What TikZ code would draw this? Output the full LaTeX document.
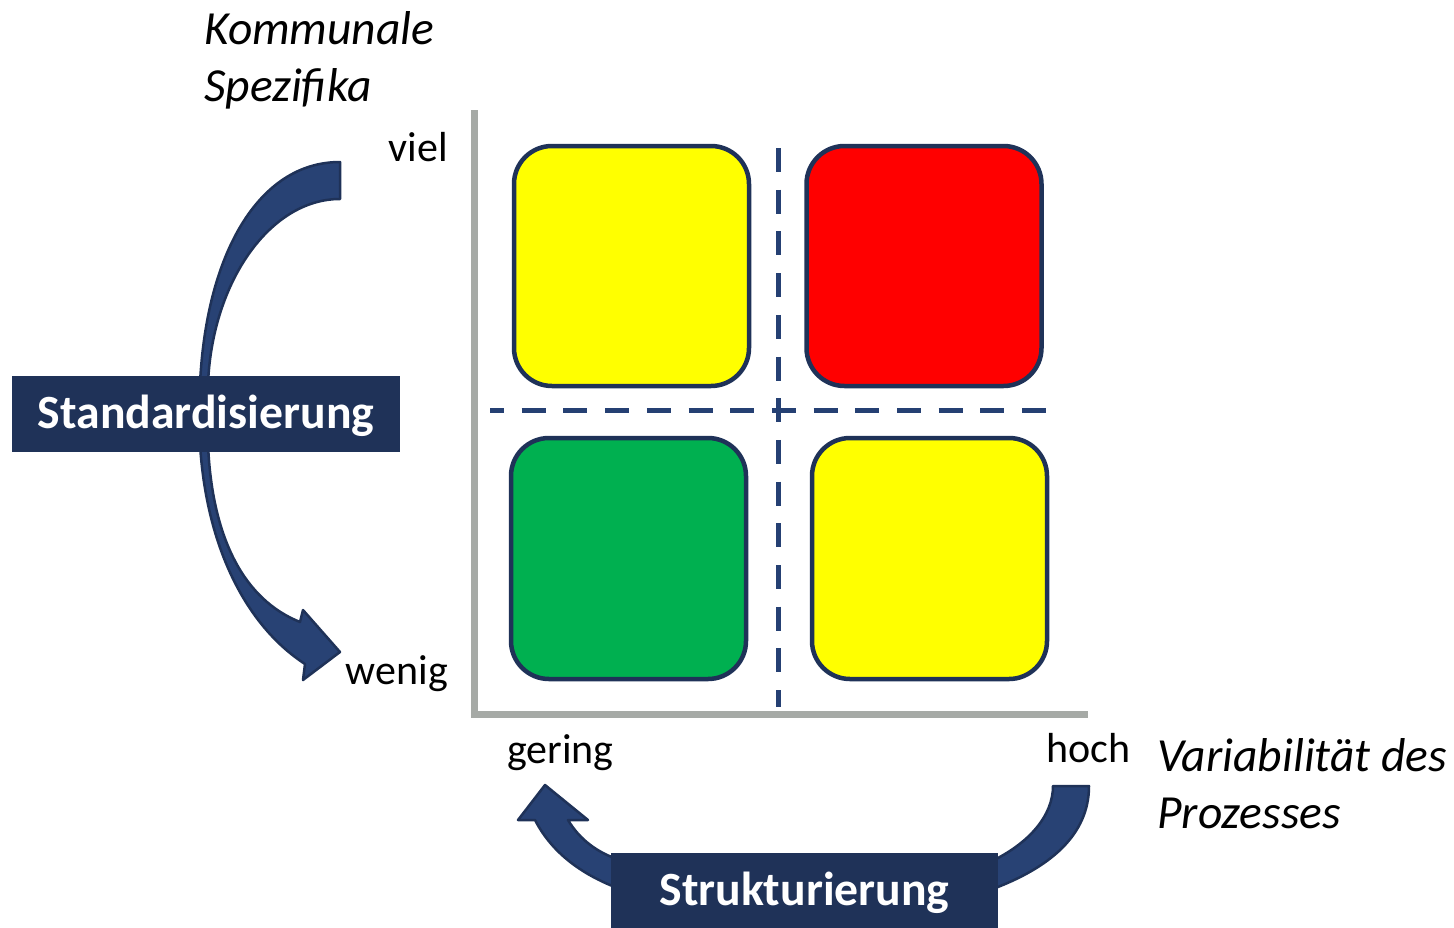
\documentclass[tikz,border=0pt]{standalone}
\usepackage{fontspec}
\setmainfont{Carlito}
\definecolor{navy}{RGB}{31,50,88}
\definecolor{arrowfill}{RGB}{40,66,116}
\definecolor{dashblue}{RGB}{37,64,115}
\definecolor{axisgray}{RGB}{166,170,166}
\definecolor{qyellow}{RGB}{255,255,0}
\definecolor{qred}{RGB}{255,0,0}
\definecolor{qgreen}{RGB}{0,176,80}
\begin{document}
\begin{tikzpicture}[x=1pt,y=-1pt,
  quad/.style={draw=navy, line width=4.5pt, rounded corners=38pt, inner sep=0pt, minimum width=235pt, minimum height=240pt},
  divline/.style={draw=dashblue, line width=5pt, dash pattern=on 24pt off 17.7pt},
  axisline/.style={draw=axisgray, line width=7pt},
  bigarrow/.style={fill=arrowfill, draw=navy, line width=2.5pt, line join=round},
  labelbox/.style={fill=navy, inner sep=0pt, minimum width=388pt},
  lbl/.style={inner sep=0pt, font=\fontsize{42}{50}\selectfont},
  itl/.style={inner sep=0pt, font=\fontsize{47.5}{56}\selectfont\itshape},
  boxtext/.style={inner sep=0pt, text=white, font=\fontsize{47.7}{56}\selectfont\bfseries}
]
\useasboundingbox (0,0) rectangle (1454,927);

% axes
\coordinate (axtop) at (474.5,110);
\coordinate (axorig) at (474.5,714);
\coordinate (axright) at (1088,714);
\draw[axisline] (axtop) -- (axorig) -- (axright);

% quadrants
\node[quad, fill=qyellow] (q1) at (631.5,266) {};
\node[quad, fill=qred] (q2) at (924,266) {};
\node[quad, fill=qgreen, minimum height=241pt] (q3) at (628.5,558.5) {};
\node[quad, fill=qyellow, minimum height=241pt] (q4) at (929.5,558.5) {};

% dashed dividers
\coordinate (vtop) at (778,148);
\coordinate (vbot) at (778,707);
\coordinate (hleft) at (490,410);
\coordinate (hright) at (1050,410);
\draw[divline] (vtop) -- (vbot);
\draw[divline, dash phase=10pt] (hleft) -- (hright);

% curved arrows
\draw[bigarrow] (340,162) .. controls (258,162) and (206,255) .. (200,384)
  -- (208,384) .. controls (212,282) and (270,199) .. (340,199) -- cycle;
\draw[bigarrow] (200,444) .. controls (206,545) and (245,625) .. (305,664)
  -- (303,680) -- (340,652) -- (303,610) -- (300,622)
  .. controls (245,600) and (212,540) .. (208,444) -- cycle;
\draw[bigarrow] (1089,786) .. controls (1089,835) and (1050,868) .. (990,890)
  -- (990,862) .. controls (1030,843) and (1053,815) .. (1053,786) -- cycle;
\draw[bigarrow] (620,889) .. controls (585,876) and (553,855) .. (535,820)
  -- (518,820) -- (545,785) -- (588,820) -- (568,820)
  .. controls (580,840) and (598,853) .. (620,860) -- cycle;

% label boxes
\node[labelbox, minimum height=76pt] (std) at (206,414) {};
\node[boxtext, anchor=base] (stdt) at (206,428) {Standardisierung};
\node[labelbox, minimum height=76pt, minimum width=387pt] (str) at (804.5,891) {};
\node[boxtext, anchor=base] (strt) at (804.5,905) {Strukturierung};

% axis labels
\node[itl, anchor=base west] (k1) at (204,44) {Kommunale};
\node[itl, anchor=base west] (k2) at (204,101) {Spezifika};
\node[lbl, anchor=base east] (viel) at (448,161) {viel};
\node[lbl, anchor=base east] (wenig) at (448,684) {wenig};
\node[lbl, anchor=base west] (gering) at (507,763) {gering};
\node[lbl, anchor=base west] (hoch) at (1046,762) {hoch};
\node[itl, anchor=base west] (v1) at (1157,771) {Variabilität des};
\node[itl, anchor=base west] (v2) at (1157,828) {Prozesses};
\end{tikzpicture}
\end{document}
